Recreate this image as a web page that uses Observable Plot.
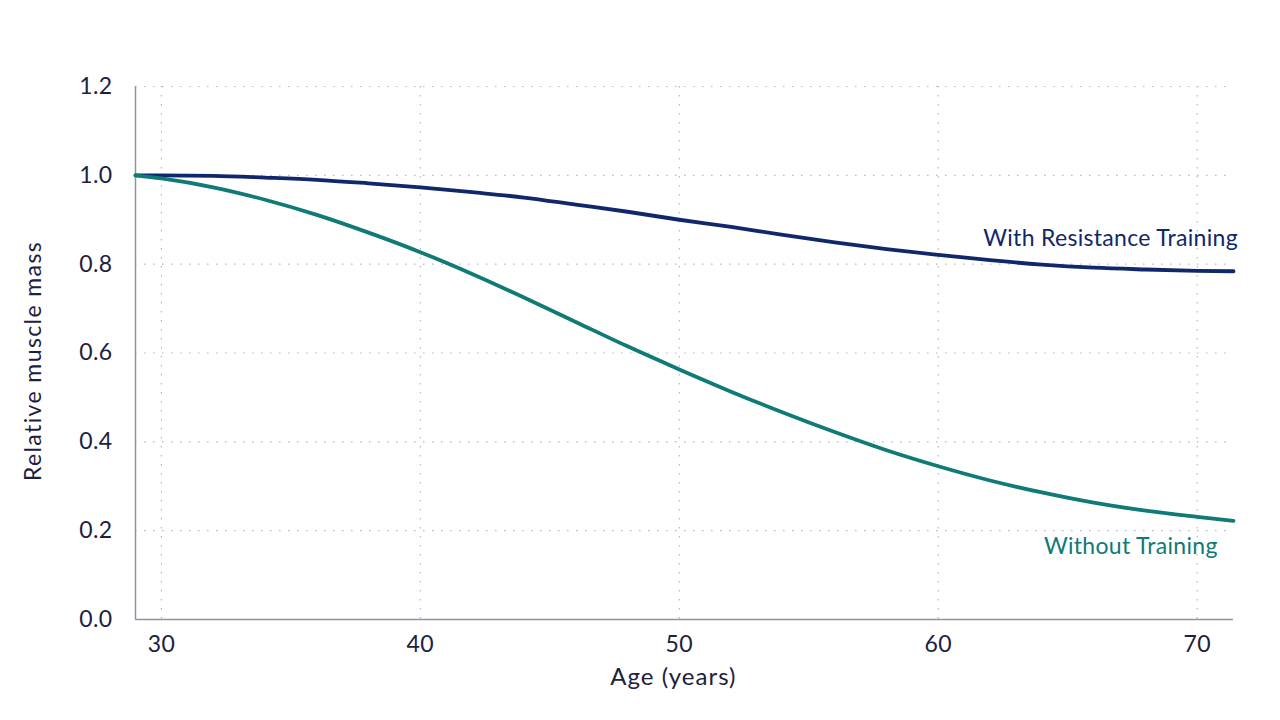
<!DOCTYPE html>
<html>
<head>
<meta charset="utf-8">
<script src="https://cdn.jsdelivr.net/npm/d3@7"></script>
<script src="https://cdn.jsdelivr.net/npm/@observablehq/plot@0.6"></script>
<style>
  html, body { margin: 0; padding: 0; background: #ffffff; }
  #chart svg { display: block; }
  .lab-y text { letter-spacing: 1.4px; }
  .lab-x text { letter-spacing: 1.0px; }
  .lab-s text { letter-spacing: 0.3px; }
  .ticks text { letter-spacing: 0.4px; }
</style>
</head>
<body>
<div id="chart"></div>
<script>
// ---- data ----
const ages = [29, 30, 32, 34, 36, 38, 40, 42, 44, 46, 48, 50, 52, 54, 56, 58, 60, 62, 64, 66, 68, 70, 71.4];
const withResistance = [1.0, 1.0, 0.999, 0.995, 0.99, 0.982, 0.973, 0.962, 0.95, 0.934, 0.918, 0.9, 0.884, 0.866, 0.849, 0.834, 0.821, 0.809, 0.799, 0.792, 0.788, 0.785, 0.784];
const withoutTraining = [1.0, 0.993, 0.973, 0.945, 0.911, 0.871, 0.827, 0.778, 0.725, 0.670, 0.615, 0.563, 0.513, 0.466, 0.422, 0.381, 0.345, 0.313, 0.286, 0.263, 0.245, 0.231, 0.222];
const xTicks = [30, 40, 50, 60, 70];
const yTicks = [0, 0.2, 0.4, 0.6, 0.8, 1.0, 1.2];
const seriesNames = ["With Resistance Training", "Without Training"];
const xLabel = "Age (years)";
const yLabel = "Relative muscle mass";

const navy = "#10286b";
const teal = "#0f7a76";
const ink = "#1c2140";

const rowsWith = ages.map((a, i) => ({age: a, value: withResistance[i]}));
const rowsWithout = ages.map((a, i) => ({age: a, value: withoutTraining[i]}));

const chart = Plot.plot({
  width: 1280,
  height: 720,
  marginLeft: 135,
  marginRight: 47,
  marginTop: 86,
  marginBottom: 101,
  style: {fontFamily: "Lato, 'Open Sans', sans-serif", fontSize: "23px", color: ink, background: "#ffffff"},
  x: {domain: [29, 71.4]},
  y: {domain: [0, 1.2]},
  marks: [
    Plot.gridY(yTicks.filter(d => d > 0), {stroke: "#b4b8c3", strokeOpacity: 1, strokeWidth: 1.2, strokeDasharray: "1.5,7.5"}),
    Plot.gridX(xTicks, {stroke: "#b4b8c3", strokeOpacity: 1, strokeWidth: 1.2, strokeDasharray: "1.5,7.5"}),
    Plot.ruleX([29], {stroke: "#8e93a2", strokeWidth: 1.5}),
    Plot.ruleY([0], {stroke: "#8e93a2", strokeWidth: 1.5}),
    Plot.axisX(xTicks, {tickSize: 0, tickPadding: 16, label: null, fill: ink, className: "ticks", tickFormat: d => String(d)}),
    Plot.axisY(yTicks, {tickSize: 0, tickPadding: 23, label: null, fill: ink, className: "ticks", tickFormat: d => d.toFixed(1)}),
    Plot.line(rowsWith, {x: "age", y: "value", stroke: navy, strokeWidth: 3.8, curve: "monotone-x"}),
    Plot.line(rowsWithout, {x: "age", y: "value", stroke: teal, strokeWidth: 3.8, curve: "monotone-x"}),
    Plot.text([seriesNames[0]], {x: 71.57, y: 0.841, textAnchor: "end", lineAnchor: "bottom", fill: navy, fontSize: 23, className: "lab-s"}),
    Plot.text([seriesNames[1]], {x: 70.79, y: 0.148, textAnchor: "end", lineAnchor: "bottom", fill: teal, fontSize: 23, className: "lab-s"}),
    Plot.text([xLabel], {x: 49.77, y: -0.1475, lineAnchor: "bottom", fill: ink, fontSize: 24, className: "lab-x"}),
    Plot.text([yLabel], {x: 25.06, y: 0.582, rotate: -90, lineAnchor: "middle", fill: ink, fontSize: 23, className: "lab-y"})
  ]
});
document.getElementById("chart").appendChild(chart);
</script>
</body>
</html>
